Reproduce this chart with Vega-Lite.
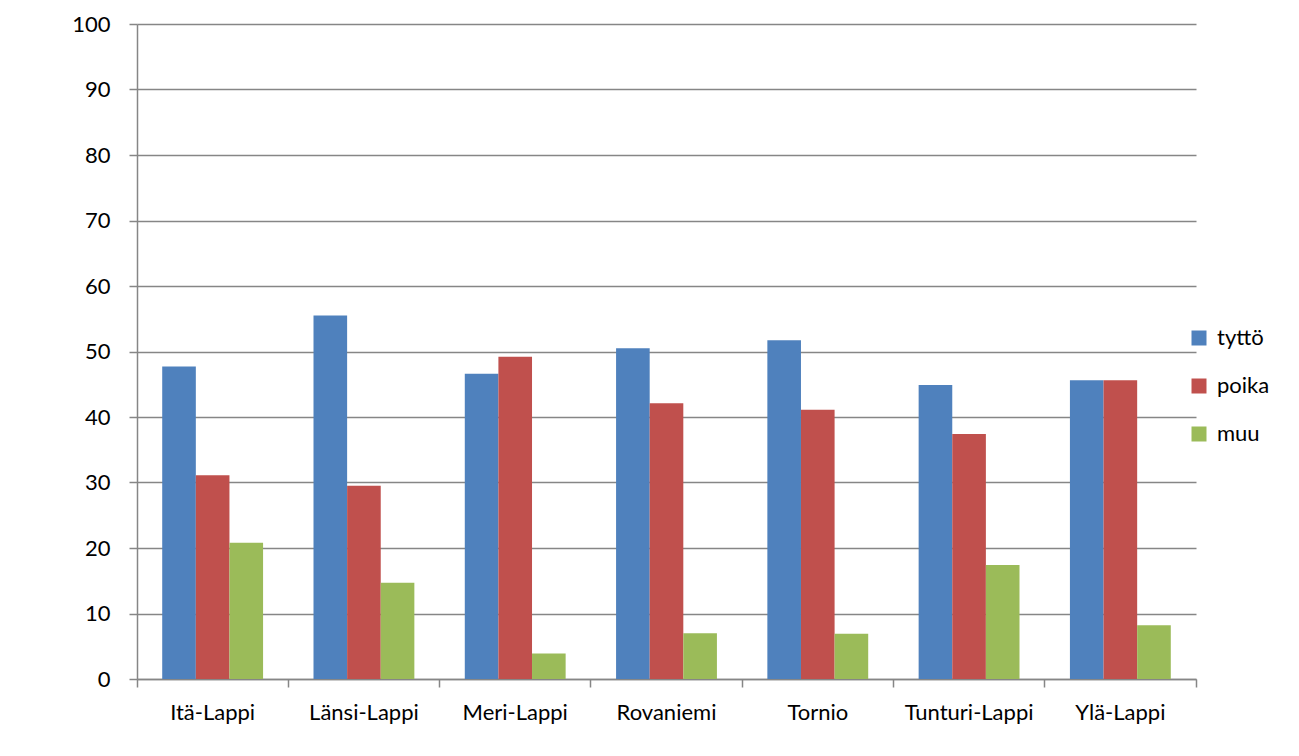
{
  "$schema": "https://vega.github.io/schema/vega-lite/v6.json",
  "width": 1059,
  "height": 655,
  "autosize": "none",
  "padding": {"left": 137, "top": 24, "right": 103, "bottom": 77},
  "background": "white",
  "data": {
    "values": [
      {"alue": "Itä-Lappi", "sukupuoli": "tyttö", "arvo": 47.7},
      {"alue": "Itä-Lappi", "sukupuoli": "poika", "arvo": 31.1},
      {"alue": "Itä-Lappi", "sukupuoli": "muu", "arvo": 20.8},
      {"alue": "Länsi-Lappi", "sukupuoli": "tyttö", "arvo": 55.5},
      {"alue": "Länsi-Lappi", "sukupuoli": "poika", "arvo": 29.5},
      {"alue": "Länsi-Lappi", "sukupuoli": "muu", "arvo": 14.7},
      {"alue": "Meri-Lappi", "sukupuoli": "tyttö", "arvo": 46.6},
      {"alue": "Meri-Lappi", "sukupuoli": "poika", "arvo": 49.2},
      {"alue": "Meri-Lappi", "sukupuoli": "muu", "arvo": 3.9},
      {"alue": "Rovaniemi", "sukupuoli": "tyttö", "arvo": 50.5},
      {"alue": "Rovaniemi", "sukupuoli": "poika", "arvo": 42.1},
      {"alue": "Rovaniemi", "sukupuoli": "muu", "arvo": 7.0},
      {"alue": "Tornio", "sukupuoli": "tyttö", "arvo": 51.7},
      {"alue": "Tornio", "sukupuoli": "poika", "arvo": 41.1},
      {"alue": "Tornio", "sukupuoli": "muu", "arvo": 6.9},
      {"alue": "Tunturi-Lappi", "sukupuoli": "tyttö", "arvo": 44.9},
      {"alue": "Tunturi-Lappi", "sukupuoli": "poika", "arvo": 37.4},
      {"alue": "Tunturi-Lappi", "sukupuoli": "muu", "arvo": 17.4},
      {"alue": "Ylä-Lappi", "sukupuoli": "tyttö", "arvo": 45.6},
      {"alue": "Ylä-Lappi", "sukupuoli": "poika", "arvo": 45.6},
      {"alue": "Ylä-Lappi", "sukupuoli": "muu", "arvo": 8.2}
    ]
  },
  "mark": {"type": "bar"},
  "encoding": {
    "x": {
      "field": "alue",
      "type": "nominal",
      "sort": null,
      "scale": {"paddingInner": 0, "paddingOuter": 0},
      "axis": {
        "title": null,
        "labelAngle": 0,
        "bandPosition": 1,
        "tickExtra": true,
        "labelOffset": 0,
        "grid": false,
        "tickSize": 8,
        "labelPadding": 15
      }
    },
    "xOffset": {
      "field": "sukupuoli",
      "type": "nominal",
      "sort": ["tyttö", "poika", "muu"],
      "scale": {"paddingInner": 0, "paddingOuter": 0.75}
    },
    "y": {
      "field": "arvo",
      "type": "quantitative",
      "scale": {"domain": [0, 100], "nice": false},
      "axis": {
        "title": null,
        "values": [0, 10, 20, 30, 40, 50, 60, 70, 80, 90, 100],
        "tickSize": 8,
        "labelPadding": 19
      }
    },
    "color": {
      "field": "sukupuoli",
      "type": "nominal",
      "sort": ["tyttö", "poika", "muu"],
      "scale": {"domain": ["tyttö", "poika", "muu"], "range": ["#4F81BD", "#C0504D", "#9BBB59"]},
      "legend": {
        "title": null,
        "orient": "none",
        "legendX": 1051,
        "legendY": 303,
        "symbolType": "square",
        "symbolSize": 225,
        "symbolStrokeWidth": 0,
        "labelFontSize": 22,
        "labelOffset": 7,
        "rowPadding": 26,
        "labelColor": "black",
        "labelFont": "Lato"
      }
    }
  },
  "config": {
    "view": {"stroke": null},
    "font": "Lato",
    "axis": {
      "labelFont": "Lato",
      "labelFontSize": 22,
      "labelColor": "black",
      "domainColor": "#868686",
      "domainWidth": 1.5,
      "tickColor": "#868686",
      "tickWidth": 1.5,
      "gridColor": "#868686",
      "gridWidth": 1.5,
      "gridOpacity": 1
    }
  }
}
